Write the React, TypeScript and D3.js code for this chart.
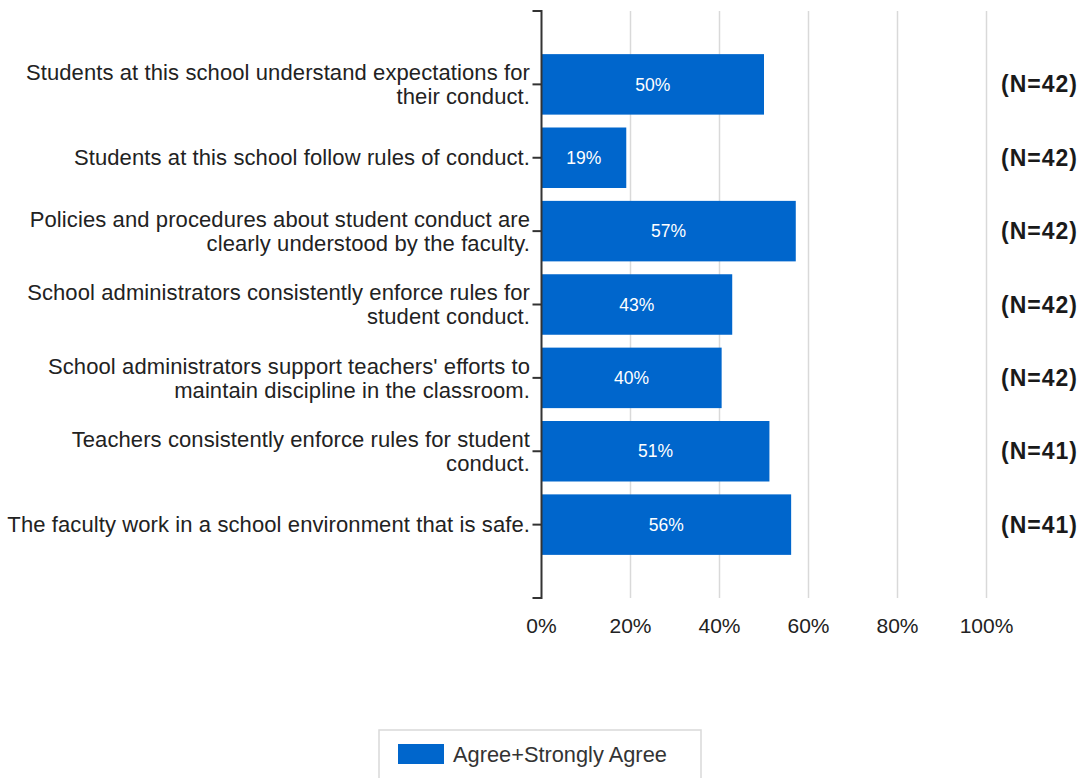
import React from "react";
import * as d3 from "d3";

const categories: string[] = [
  "Students at this school understand expectations for\ntheir conduct.",
  "Students at this school follow rules of conduct.",
  "Policies and procedures about student conduct are\nclearly understood by the faculty.",
  "School administrators consistently enforce rules for\nstudent conduct.",
  "School administrators support teachers' efforts to\nmaintain discipline in the classroom.",
  "Teachers consistently enforce rules for student\nconduct.",
  "The faculty work in a school environment that is safe.",
];
const agreeValues: number[] = [50.0, 19.05, 57.14, 42.86, 40.48, 51.22, 56.1];
const nCounts: number[] = [42, 42, 42, 42, 42, 41, 41];
const xTicks: number[] = [0, 20, 40, 60, 80, 100];
const seriesName = "Agree+Strongly Agree";

const W = 1087;
const H = 778;
const FONT = "'Liberation Sans', Arial, sans-serif";
const BAR = "#0066cc";

export default function App() {
  const left = 541.5;
  const right = 986.5;
  const top = 11;
  const bottom = 598;
  const x = d3.scaleLinear().domain([0, 100]).range([left, right]);
  const y = d3
    .scalePoint<string>()
    .domain(categories)
    .range([top, bottom])
    .padding(1);
  const barH = 60.5;

  return (
    <svg
      width={W}
      height={H}
      style={{ position: "absolute", left: 0, top: 0, background: "#fff" }}
      fontFamily={FONT}
    >
      {/* gridlines */}
      {xTicks.slice(1).map((t) => (
        <line
          key={"g" + t}
          x1={x(t)}
          x2={x(t)}
          y1={top}
          y2={bottom}
          stroke="#d9d9d9"
          strokeWidth={1.5}
        />
      ))}
      {/* bars */}
      {categories.map((c, i) => {
        const cy = y(c)!;
        const w = x(agreeValues[i]) - x(0);
        return (
          <g key={"b" + i}>
            <rect x={x(0)} y={cy - barH / 2} width={w} height={barH} fill={BAR} />
            <text
              x={x(0) + w / 2}
              y={cy}
              dy="0.35em"
              textAnchor="middle"
              fill="#ffffff"
              fontSize={17.5}
            >
              {d3.format(".0f")(agreeValues[i]) + "%"}
            </text>
          </g>
        );
      })}
      {/* y axis */}
      <path
        d={`M${left - 9},${top}H${left}V${bottom}H${left - 9}`}
        fill="none"
        stroke="#333"
        strokeWidth={2}
      />
      {categories.map((c, i) => (
        <line
          key={"t" + i}
          x1={left - 9}
          x2={left}
          y1={y(c)}
          y2={y(c)}
          stroke="#333"
          strokeWidth={2}
        />
      ))}
      {/* category labels */}
      {categories.map((c, i) => {
        const lines = c.split("\n");
        const cy = y(c)!;
        const lh = 24;
        const start = cy - ((lines.length - 1) * lh) / 2;
        return (
          <text
            key={"l" + i}
            textAnchor="end"
            fontSize={22}
            fill="#222"
            letterSpacing={0.1}
          >
            {lines.map((ln, k) => (
              <tspan key={k} x={530} y={start + k * lh} dy="0.35em">
                {ln}
              </tspan>
            ))}
          </text>
        );
      })}
      {/* N labels */}
      {categories.map((c, i) => (
        <text
          key={"n" + i}
          x={1078}
          y={y(c)}
          dy="0.35em"
          textAnchor="end"
          fontSize={23}
          fontWeight="bold"
          fill="#1a1a1a"
          letterSpacing={1}
        >
          {`(N=${nCounts[i]})`}
        </text>
      ))}
      {/* x tick labels */}
      {xTicks.map((t) => (
        <text
          key={"x" + t}
          x={x(t)}
          y={626}
          dy="0.35em"
          textAnchor="middle"
          fontSize={21}
          fill="#222"
        >
          {t + "%"}
        </text>
      ))}
      {/* legend */}
      <rect x={379} y={730} width={322} height={60} fill="#fff" stroke="#d9d9d9" strokeWidth={1.5} />
      <rect x={398} y={744} width={46} height={20} fill={BAR} />
      <text x={453} y={754} dy="0.35em" fontSize={21.8} fill="#333">
        {seriesName}
      </text>
    </svg>
  );
}
